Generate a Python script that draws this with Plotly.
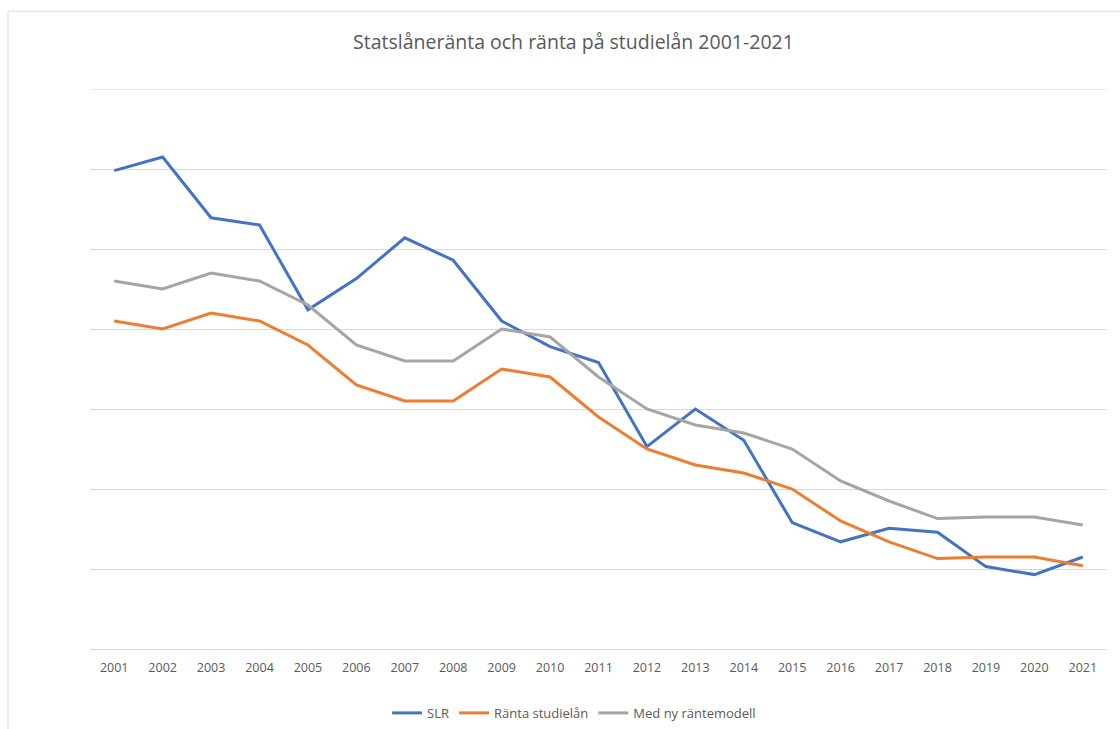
import plotly.graph_objects as go

years = [str(y) for y in range(2001, 2022)]
slr = [5.98, 6.15, 5.39, 5.30, 4.24, 4.63, 5.14, 4.86, 4.10, 3.78, 3.58,
       2.53, 3.00, 2.61, 1.58, 1.34, 1.51, 1.46, 1.03, 0.93, 1.15]
ranta_studielan = [4.10, 4.00, 4.20, 4.10, 3.80, 3.30, 3.10, 3.10, 3.50, 3.40, 2.90,
                   2.50, 2.30, 2.20, 2.00, 1.60, 1.34, 1.13, 1.15, 1.15, 1.04]
med_ny_rantemodell = [4.60, 4.50, 4.70, 4.60, 4.30, 3.80, 3.60, 3.60, 4.00, 3.90, 3.40,
                      3.00, 2.80, 2.70, 2.50, 2.10, 1.85, 1.63, 1.65, 1.65, 1.55]

series = [
    ("SLR", slr, "#4472C4"),
    ("Ränta studielån", ranta_studielan, "#ED7D31"),
    ("Med ny räntemodell", med_ny_rantemodell, "#A5A5A5"),
]

FONT = "Open Sans"
TXT = "#595959"
GRID = "#D9D9D9"
YMAX = 7

fig = go.Figure()
for name, vals, col in series:
    fig.add_trace(go.Scatter(x=list(range(len(years))), y=vals, name=name, mode="lines",
                             line=dict(color=col, width=3)))

fig.update_layout(
    width=1120, height=729,
    margin=dict(l=90, r=13, t=89, b=80, autoexpand=False),
    paper_bgcolor="white", plot_bgcolor="white",
    title=dict(text="Statslåneränta och ränta på studielån 2001-2021",
               x=0.512, xanchor="center", y=0.942, yanchor="middle",
               font=dict(family=FONT, size=19.5, color=TXT)),
    font=dict(family=FONT, size=12, color=TXT),
    showlegend=True,
    legend=dict(orientation="h", x=0.476, xanchor="center",
                yref="container", y=0.022, yanchor="middle",
                font=dict(family=FONT, size=13, color=TXT),
                traceorder="normal"),
    xaxis=dict(range=[-0.5, len(years) - 0.5], tickmode="array",
               tickvals=list(range(len(years))), ticktext=years,
               showgrid=False, zeroline=False, showline=False, ticks="",
               ticklabelstandoff=9,
               tickfont=dict(family=FONT, size=12.5, color=TXT)),
    yaxis=dict(range=[0, YMAX], dtick=1, showgrid=True, gridcolor=GRID, gridwidth=1,
               zeroline=True, zerolinecolor=GRID, zerolinewidth=1,
               showticklabels=False, ticks="", showline=False),
)

# top gridline at the range edge
fig.add_shape(type="line", xref="paper", yref="y", x0=0, x1=1, y0=YMAX, y1=YMAX,
              line=dict(color=GRID, width=1), layer="below")

# outer chart frame (top and left edges)
fig.add_shape(type="line", xref="paper", yref="paper", x0=-0.0806, x1=1.02, y0=1.139, y1=1.139,
              line=dict(color=GRID, width=1))
fig.add_shape(type="line", xref="paper", yref="paper", x0=-0.0806, x1=-0.0806, y0=1.139, y1=-0.15,
              line=dict(color=GRID, width=1))

fig.write_html("out.html", config={"displayModeBar": False},
               post_script="document.body.style.margin='0px';")
